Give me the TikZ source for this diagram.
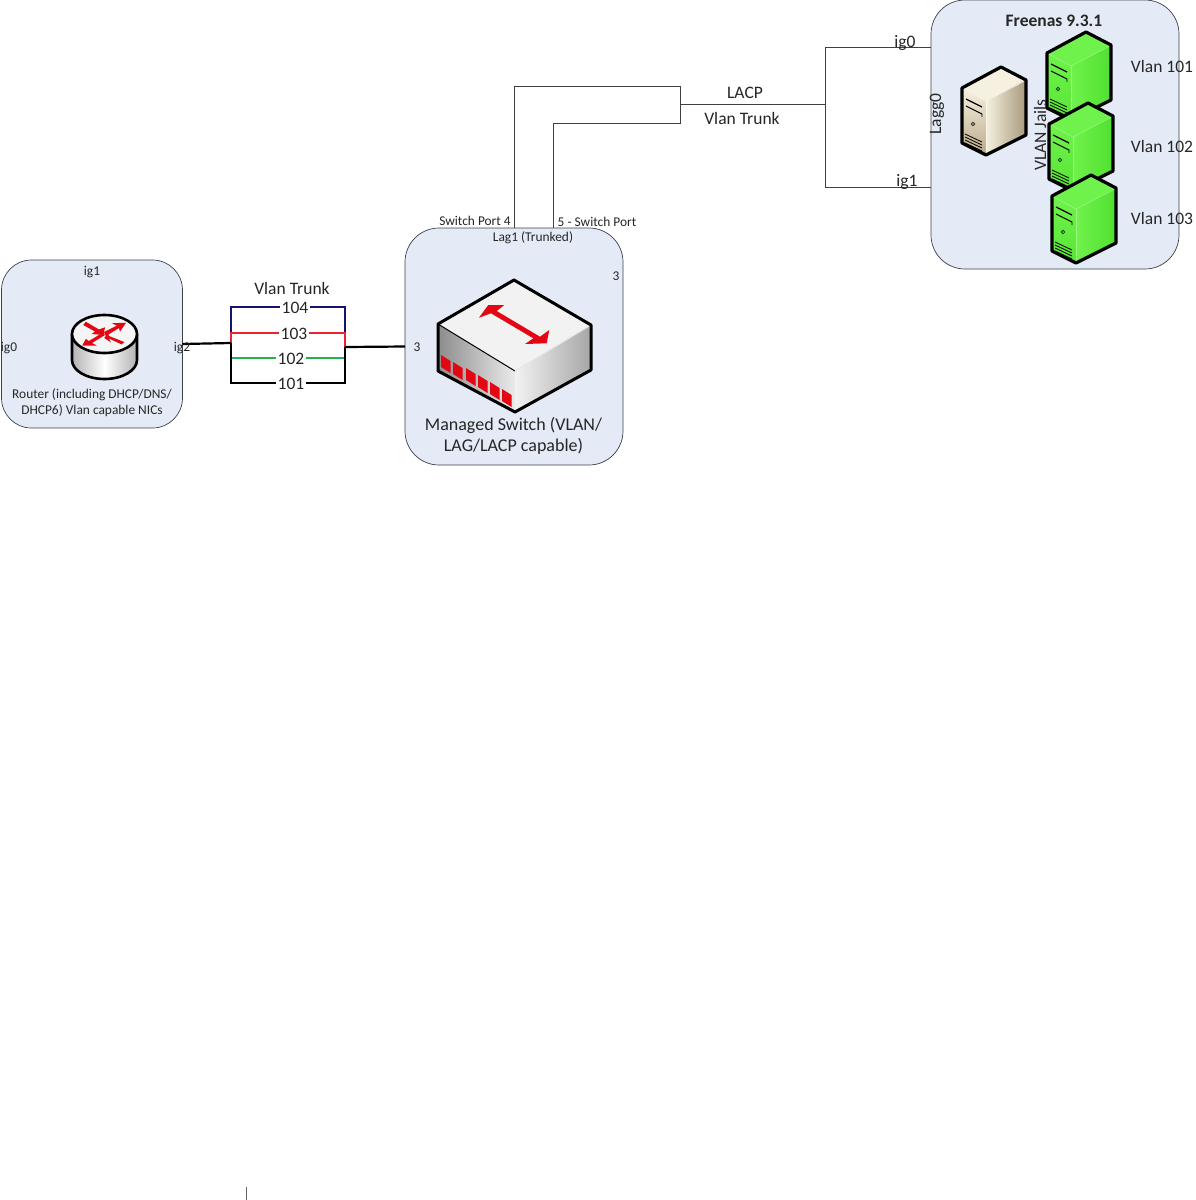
\documentclass[tikz,border=0pt]{standalone}
\usepackage{fontspec}
\setmainfont{Carlito}
\usetikzlibrary{calc, positioning}

\definecolor{panelblue}{HTML}{E4EBF6}
\definecolor{paneledge}{HTML}{3C4248}
\definecolor{wirenavy}{HTML}{14146E}
\definecolor{wirered}{HTML}{E8252F}
\definecolor{wiregreen}{HTML}{22B14C}
\definecolor{iconred}{HTML}{E30613}
\definecolor{tantop}{HTML}{F5F0DF}
\definecolor{tanside}{HTML}{A89A7C}
\definecolor{tanfront}{HTML}{BBAA8A}
\definecolor{limetop}{HTML}{70F24C}
\definecolor{limeside}{HTML}{50E030}
\definecolor{limefront}{HTML}{58E636}

\tikzset{
    pics/server/.style n args={3}{code={
        % top, side and front faces, measured from the top corner
        \fill[#1] (0,0) -- (-39,21) -- (-15,34) -- (25,13) -- cycle;
        \shade[left color=#1, right color=#2] (-15,34) -- (25,13) -- (25,68) -- (-15,88) -- cycle;
        \shade[top color=#1, bottom color=#3] (-39,21) -- (-15,34) -- (-15,88) -- (-39,76) -- cycle;
        \draw[#1!70!white, line width=0.5pt] (-37,22) -- (-15,34) -- (24,14);
        \draw[#1!70!white, line width=0.5pt] (-15,34) -- (-15,88);
        \draw[black, line width=3.2pt, line join=round] (0,0) -- (-39,21) -- (-39,76) -- (-15,88) -- (25,68) -- (25,13) -- cycle;
        % slots, power button and vents
        \draw[black, line width=1.2pt] (-35,32) -- (-19,40);
        \draw[black, line width=0.9pt] (-35,39) -- (-19,47) -- (-19,50);
        \draw[black!70!#3, line width=0.8pt] (-28,57) circle (1.8);
        \foreach \ventY in {67,70,73,76}
            \draw[black, line width=0.8pt] (-36,\ventY) -- (-19,\ventY+8);
    }}
}

\begin{document}
\begin{tikzpicture}[x=1pt, y=-1pt, thick]
    % Define styles locally
    \tikzstyle{panel} = [rectangle, draw=paneledge, fill=panelblue, line width=0.7pt, inner sep=0pt, outer sep=0pt]
    \tikzstyle{wire} = [draw=black!75, line width=0.7pt]
    \tikzstyle{vlanwire} = [line width=1.1pt]
    \tikzstyle{bigtext} = [inner sep=0pt, text=black!85, font=\fontsize{17.5}{21}\selectfont, align=center]
    \tikzstyle{smalltext} = [inner sep=0pt, text=black!85, font=\fontsize{13.4}{16}\selectfont, align=center]
    \tikzstyle{vlantag} = [bigtext, fill=white, inner xsep=1.5pt, inner ysep=0pt]

    \useasboundingbox (0,0) rectangle (1195,1200);
    \fill[white] (0,0) rectangle (1195,1200);

    % Panels
    \node[panel, rounded corners=30pt, minimum width=181pt, minimum height=168pt] (routerPanel) at (92,344) {};
    \node[panel, rounded corners=34pt, minimum width=218pt, minimum height=237pt] (switchPanel) at (514,346.5) {};
    \node[panel, rounded corners=34pt, minimum width=248pt, minimum height=269pt] (nasPanel) at (1055,134.5) {};

    % Router icon
    \shade[left color=black!30, right color=black!30, middle color=white] (72,334) -- (72,360) arc[start angle=180, end angle=0, x radius=32.5, y radius=19] -- (137,334) -- cycle;
    \draw[black, line width=2.6pt] (72,334) -- (72,360) arc[start angle=180, end angle=0, x radius=32.5, y radius=19] -- (137,334);
    \draw[black, fill=black!4, line width=2.6pt] (104.5,334) ellipse (32.5 and 19);
    \fill[iconred] (85.7,321.7) -- (99,329.5) -- (105,327.3) -- (103.5,335) -- (91.7,334) -- (95,331.5) -- (83.3,325) -- cycle;
    \fill[iconred] (104,332) -- (117,325.5) -- (111.7,323.3) -- (126,322.7) -- (120,331.7) -- (119,328) -- (106,336) -- cycle;
    \fill[iconred] (104.3,338) -- (108,333) -- (109,336) -- (124.3,342) -- (121.7,344.5) -- (109,338.5) -- (111,342.5) -- cycle;
    \fill[iconred] (82.3,345.5) -- (85.7,339) -- (89,341) -- (103,332.5) -- (105,335) -- (92,343) -- (96.7,345.5) -- cycle;

    % Switch icon
    \fill[white!95!black] (514,280) -- (438,324) -- (515,371) -- (591,325) -- cycle;
    \shade[left color=black!45, right color=black!8] (438,324) -- (515,371) -- (515,412) -- (438,371) -- cycle;
    \shade[left color=black!5, right color=black!35] (515,371) -- (591,325) -- (591,370) -- (515,412) -- cycle;
    \draw[black, line width=1pt] (438,324) -- (515,371);
    \draw[black!10, line width=1pt] (515,371) -- (591,325);
    \draw[black, line width=3pt, line join=round] (514,280) -- (438,324) -- (438,371) -- (515,412) -- (591,370) -- (591,325) -- cycle;
    \foreach \portX/\portY in {441/355, 453/362, 466/368, 478/375, 490/382, 502/389}
        \fill[iconred] (\portX,\portY) -- ++(9.5,6) -- ++(0,12) -- ++(-9.5,-6) -- cycle;
    \fill[iconred] (479,317.7) -- (488.3,305) -- (504.3,305) -- (496.7,311) -- (540,336.7) -- (549.3,330) -- (546.7,343.3) -- (525,344) -- (533.3,338.3) -- (491,313.3) -- cycle;

    % Servers
    \pic at (1001,67) {server={tantop}{tanside}{tanfront}};
    \pic at (1086,32) {server={limetop}{limeside}{limefront}};
    \pic at (1088,103) {server={limetop}{limeside}{limefront}};
    \pic at (1091,175) {server={limetop}{limeside}{limefront}};

    % Vlan trunk between router and switch
    \coordinate (trunkWest) at (231,343);
    \coordinate (trunkEast) at (345,347);
    \coordinate (tagA) at (231,307);
    \coordinate (tagB) at (345,307);
    \coordinate (tagC) at (231,333);
    \coordinate (tagD) at (345,333);
    \coordinate (tagE) at (231,358);
    \coordinate (tagF) at (345,358);
    \coordinate (tagG) at (231,383);
    \coordinate (tagH) at (345,383);

    \draw[vlanwire, draw=wirenavy] (tagC) -- (tagA) -- (tagB) -- (tagD);
    \draw[vlanwire, draw=wirered] (trunkWest) -- (tagC) -- (tagD) -- (trunkEast);
    \draw[vlanwire, draw=wiregreen] (tagE) -- (tagF);
    \draw[vlanwire, draw=black] (trunkWest) -- (tagG) -- (tagH) -- (trunkEast);
    \draw[black, line width=2.2pt] (routerPanel.east) -- (trunkWest);
    \draw[black, line width=2.2pt] (trunkEast) -- (switchPanel.west);

    \node[vlantag] (vlan104) at (295,308) {104};
    \node[vlantag] (vlan103) at (294,334) {103};
    \node[vlantag] (vlan102) at (291,359) {102};
    \node[vlantag] (vlan101) at (291,384) {101};

    % Uplink from switch to Freenas
    \coordinate (portFive) at (553,228);
    \coordinate (bendA) at (514,86);
    \coordinate (bendB) at (680,86);
    \coordinate (bendC) at (680,123);
    \coordinate (bendD) at (553,123);
    \coordinate (lagMid) at (680,104);
    \coordinate (lagHub) at (825,104);
    \coordinate (hubTop) at (825,47);
    \coordinate (hubBottom) at (825,187);
    \coordinate (nasTop) at (931,47);
    \coordinate (nasBottom) at (931,187);

    \draw[wire] (switchPanel.north) -- (bendA) -- (bendB) -- (bendC) -- (bendD) -- (portFive);
    \draw[wire] (lagMid) -- (lagHub);
    \draw[wire] (nasTop) -- (hubTop) -- (hubBottom) -- (nasBottom);

    % Router labels
    \node[smalltext] (labelRouterIgOne) at (92,272) {ig1};
    \node[smalltext] (labelRouterIgZero) at (9,348) {ig0};
    \node[smalltext] (labelRouterIgTwo) at (182,348) {ig2};
    \node[smalltext] (labelRouter) at (92,403) {Router (including DHCP/DNS/\\DHCP6) Vlan capable NICs};

    % Switch labels
    \node[smalltext] (labelPortFour) at (475,221) {Switch Port 4};
    \node[smalltext] (labelPortFive) at (597,222) {5 - Switch Port};
    \node[smalltext] (labelLag) at (533,238) {Lag1 (Trunked)};
    \node[smalltext] (labelThreeA) at (616,276) {3};
    \node[smalltext] (labelThreeB) at (417,347) {3};
    \node[bigtext, font=\fontsize{18}{21.5}\selectfont] (labelSwitch) at (513.5,436) {Managed Switch (VLAN/\\LAG/LACP capable)};

    % Trunk and uplink labels
    \node[bigtext] (labelTrunk) at (292,288) {Vlan Trunk};
    \node[bigtext] (labelLacp) at (745,93) {LACP};
    \node[bigtext] (labelUplink) at (742,118) {Vlan Trunk};

    % Freenas labels
    \node[bigtext, font=\bfseries\fontsize{17.5}{21}\selectfont] (labelNas) at (1054,21) {Freenas 9.3.1};
    \node[bigtext] (labelIgZero) at (905,43) {ig0};
    \node[bigtext] (labelIgOne) at (907,182) {ig1};
    \node[bigtext, rotate=90] (labelLagg) at (937,114) {Lagg0};
    \node[bigtext, rotate=90] (labelJails) at (1040,135) {VLAN Jails};
    \node[bigtext] (labelVlanA) at (1162,66) {Vlan 101};
    \node[bigtext] (labelVlanB) at (1162,146) {Vlan 102};
    \node[bigtext] (labelVlanC) at (1162,218) {Vlan 103};

    % Stub at the bottom edge
    \coordinate (stubTop) at (246,1187);
    \coordinate (stubBottom) at (246,1200);
    \draw[wire, draw=black!60] (stubTop) -- (stubBottom);
\end{tikzpicture}
\end{document}
